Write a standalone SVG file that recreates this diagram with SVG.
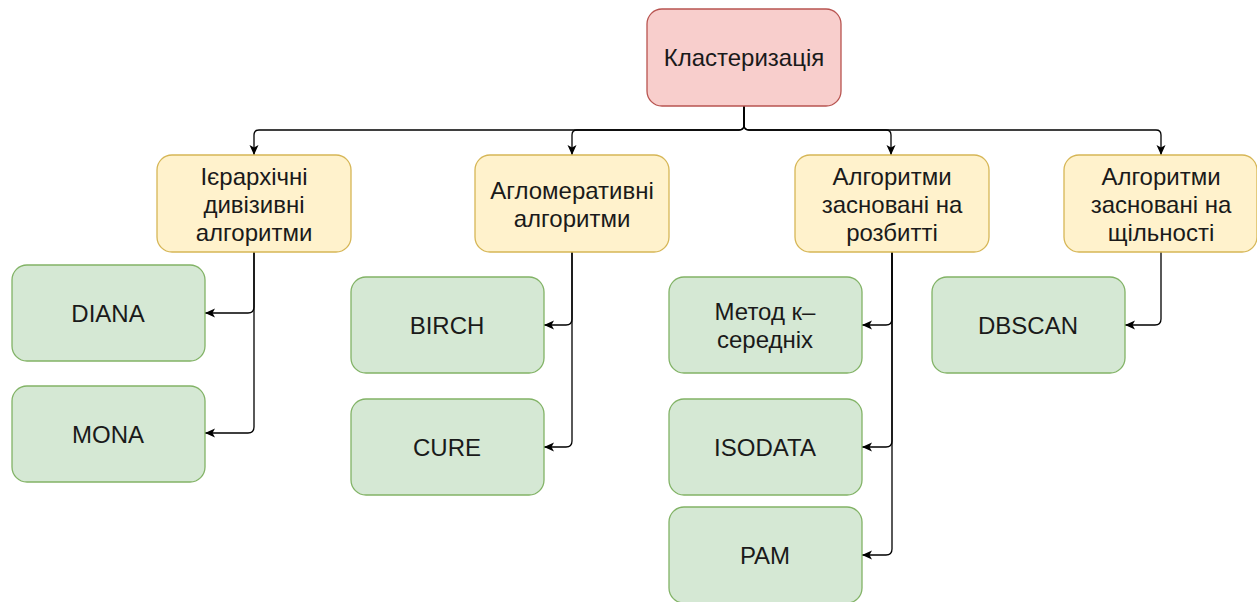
<svg xmlns="http://www.w3.org/2000/svg" width="1257" height="602" viewBox="0 0 1257 602">
<defs>
<marker id="arr" viewBox="0 0 10 10" refX="10" refY="5" markerWidth="10" markerHeight="10" markerUnits="userSpaceOnUse" orient="auto">
<path d="M0,0.5 L10,5 L0,9.5 L2.5,5 Z" fill="#000"/>
</marker>
<style>
.red{fill:#f8cecc;stroke:#b85450;stroke-width:1.3}
.yel{fill:#fff2cc;stroke:#d6b656;stroke-width:1.3}
.grn{fill:#d5e8d4;stroke:#82b366;stroke-width:1.3}
text{font-family:"Liberation Sans",Arial,sans-serif;font-size:24px;fill:#1a1a1a;text-anchor:middle}
.e{fill:none;stroke:#000;stroke-width:1.3;marker-end:url(#arr)}
</style>
</defs>
<rect width="1257" height="602" fill="#fff"/>
<g id="edges">
<path class="e" d="M744,106 L744,125 Q744,130 739,130 L259,130 Q254,130 254,135 L254,155"/>
<path class="e" d="M744,106 L744,125 Q744,130 739,130 L577,130 Q572,130 572,135 L572,155"/>
<path class="e" d="M744,106 L744,125 Q744,130 749,130 L886,130 Q891,130 891,135 L891,155"/>
<path class="e" d="M744,106 L744,125 Q744,130 749,130 L1156,130 Q1161,130 1161,135 L1161,155"/>
<path class="e" d="M254,252 L254,307 Q254,313 248,313 L205,313"/>
<path class="e" d="M254,252 L254,427 Q254,433 248,433 L205,433"/>
<path class="e" d="M572,252 L572,319 Q572,325 566,325 L544,325"/>
<path class="e" d="M572,252 L572,441 Q572,447 566,447 L544,447"/>
<path class="e" d="M892,252 L892,319 Q892,325 886,325 L862,325"/>
<path class="e" d="M892,252 L892,441 Q892,447 886,447 L862,447"/>
<path class="e" d="M892,252 L892,549 Q892,555 886,555 L862,555"/>
<path class="e" d="M1161,252 L1161,319 Q1161,325 1155,325 L1125,325"/>
</g>
<g id="root"><rect class="red" x="647" y="9" width="194" height="97" rx="15"/><text x="744" y="66">Кластеризація</text></g>
<g id="hier"><rect class="yel" x="157" y="155" width="194" height="97" rx="15"/><text x="254" y="185">Ієрархічні</text><text x="254" y="213">дивізивні</text><text x="254" y="241">алгоритми</text></g>
<g id="aggl"><rect class="yel" x="475" y="155" width="194" height="97" rx="15"/><text x="572" y="199">Агломеративні</text><text x="572" y="227">алгоритми</text></g>
<g id="part"><rect class="yel" x="795" y="155" width="194" height="97" rx="15"/><text x="892" y="185">Алгоритми</text><text x="892" y="213">засновані на</text><text x="892" y="241">розбитті</text></g>
<g id="dens"><rect class="yel" x="1064" y="155" width="193" height="97" rx="15"/><text x="1161" y="185">Алгоритми</text><text x="1161" y="213">засновані на</text><text x="1161" y="241">щільності</text></g>
<g id="diana"><rect class="grn" x="12" y="265" width="193" height="96" rx="15"/><text x="108" y="322">DIANA</text></g>
<g id="mona"><rect class="grn" x="12" y="386" width="193" height="96" rx="15"/><text x="108" y="443">MONA</text></g>
<g id="birch"><rect class="grn" x="351" y="277" width="193" height="96" rx="15"/><text x="447" y="334">BIRCH</text></g>
<g id="cure"><rect class="grn" x="351" y="399" width="193" height="96" rx="15"/><text x="447" y="456">CURE</text></g>
<g id="kmeans"><rect class="grn" x="669" y="277" width="193" height="96" rx="15"/><text x="765" y="320">Метод к–</text><text x="765" y="348">середніх</text></g>
<g id="isodata"><rect class="grn" x="669" y="399" width="193" height="96" rx="15"/><text x="765" y="456">ISODATA</text></g>
<g id="pam"><rect class="grn" x="669" y="507" width="193" height="96" rx="15"/><text x="765" y="564">PAM</text></g>
<g id="dbscan"><rect class="grn" x="932" y="277" width="193" height="96" rx="15"/><text x="1028" y="334">DBSCAN</text></g>
</svg>
